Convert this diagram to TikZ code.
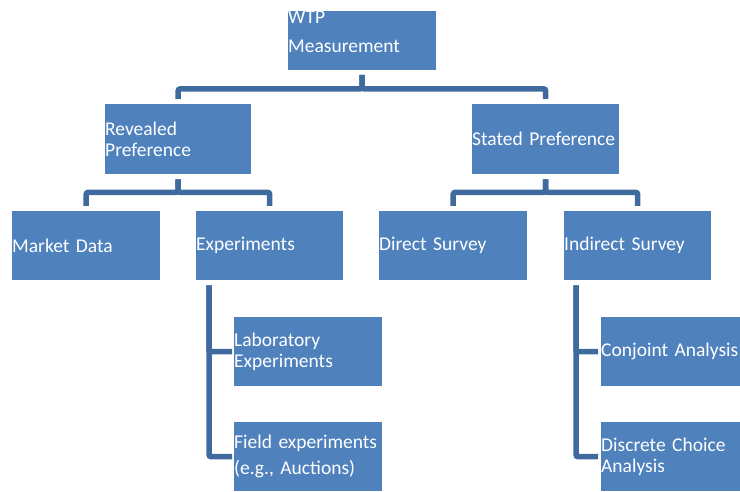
\documentclass[tikz,border=0pt]{standalone}
\usepackage{fontspec}
\setmainfont{Carlito}
\usetikzlibrary{positioning}
\definecolor{boxfill}{HTML}{4F81BD}
\definecolor{linkc}{HTML}{3F6A9E}

\begin{document}
\begin{tikzpicture}[x=1pt,y=1pt,
    box/.style={anchor=north west,fill=boxfill,text=white,inner sep=0pt,
        text width=147pt,minimum height=69pt,align=left,
        font=\fontsize{19.5}{21}\selectfont},
    link/.style={draw=linkc,line width=5.5pt,rounded corners=2pt},
  ]
  \useasboundingbox (0,0) rectangle (740,491);

  % ============================================================= BOXES
  \node[box,text width=148pt,minimum height=57pt] (wtp) at (288,480)
    {WTP\\[8pt]Measurement\rule[-17pt]{0pt}{17pt}};

  \node[box,text width=146pt,minimum height=70pt] (revealed) at (105,387)
    {Revealed\\Preference};
  \node[box,minimum height=70pt] (stated) at (472,387) {Stated Preference};

  \node[box,text width=148pt] (market) at (12,280) {Market Data};
  \node[box] (exper) at (196,280) {Experiments};
  \node[box,text width=148pt] (direct) at (379,280) {Direct Survey};
  \node[box] (indirect) at (564,280) {Indirect Survey};

  % leaves under Experiments / Indirect Survey
  \node[box,text width=148pt] (lab) at (234,174) {Laboratory\\Experiments};
  \node[box,text width=148pt] (field) at (234,69)
    {Field experiments\\[5pt](e.g., Auctions)};
  \node[box,text width=139pt] (conjoint) at (601,174) {Conjoint Analysis};
  \node[box,text width=139pt] (discrete) at (601,69)
    {Discrete Choice\\Analysis};

  % ============================================================= LINKS
  % elbow links: stem down, bar across, drop into the child
  \draw[link,shorten <=5pt,shorten >=5pt] (wtp.south) -- ++(0,-19) -| (revealed.north);
  \draw[link,shorten <=5pt,shorten >=5pt] (wtp.south) -- ++(0,-19) -| (stated.north);
  \draw[link,shorten <=5pt,shorten >=5pt] (revealed.south) -- ++(0,-18) -| (market.north);
  \draw[link,shorten <=5pt,shorten >=5pt] (revealed.south) -- ++(0,-18) -| (exper.north);
  \draw[link,shorten <=5pt,shorten >=5pt] (stated.south) -- ++(0,-18) -| (direct.north);
  \draw[link,shorten <=5pt,shorten >=5pt] (stated.south) -- ++(0,-18) -| (indirect.north);

  % side rails into the leaves
  \draw[link,shorten <=5pt,shorten >=2pt] ([xshift=13pt]exper.south west) |- (lab.west);
  \draw[link,shorten <=5pt,shorten >=2pt] ([xshift=13pt]exper.south west) |- (field.west);
  \draw[link,shorten <=5pt,shorten >=3pt] ([xshift=12pt]indirect.south west) |- (conjoint.west);
  \draw[link,shorten <=5pt,shorten >=3pt] ([xshift=12pt]indirect.south west) |- (discrete.west);

\end{tikzpicture}
\end{document}
